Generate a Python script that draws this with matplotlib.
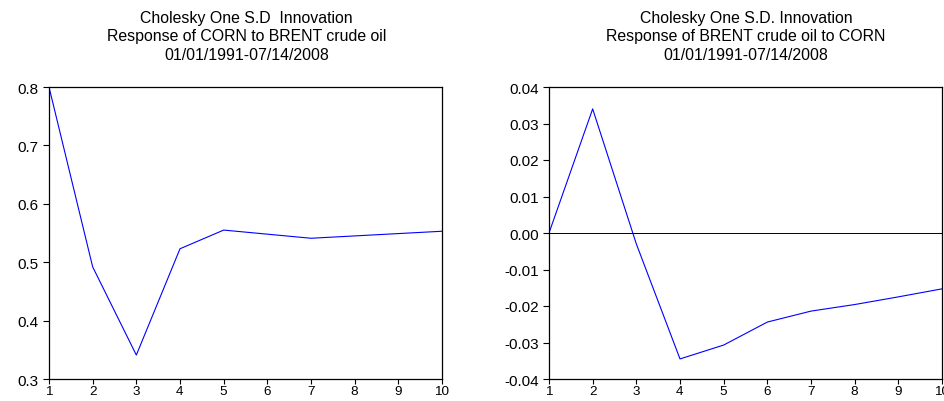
import matplotlib
matplotlib.use("Agg")
import matplotlib.pyplot as plt

periods = [1, 2, 3, 4, 5, 6, 7, 8, 9, 10]
corn_resp = [0.800, 0.492, 0.341, 0.523, 0.555, 0.548, 0.541, 0.545, 0.549, 0.553]
brent_resp = [0.0, 0.034, -0.003, -0.0345, -0.0307, -0.0244, -0.0214, -0.0196, -0.0175, -0.0153]

left_yticks = [0.3, 0.4, 0.5, 0.6, 0.7, 0.8]
right_yticks = [-0.04, -0.03, -0.02, -0.01, 0.00, 0.01, 0.02, 0.03, 0.04]

title_left = "Cholesky One S.D  Innovation\nResponse of CORN to BRENT crude oil\n01/01/1991-07/14/2008"
title_right = "Cholesky One S.D. Innovation\nResponse of BRENT crude oil to CORN\n01/01/1991-07/14/2008"

plt.rcParams['font.family'] = ['Liberation Sans', 'DejaVu Sans']

fig = plt.figure(figsize=(9.45, 4.02), dpi=100)
W, H = 945, 402
def ax_rect(x0, x1, y0, y1):
    return [x0 / W, 1 - y1 / H, (x1 - x0) / W, (y1 - y0) / H]

ax1 = fig.add_axes(ax_rect(49, 442, 88, 380))
ax2 = fig.add_axes(ax_rect(549, 942, 88, 380))

ax1.plot(periods, corn_resp, color='blue', lw=0.8)
ax1.set_xlim(1, 10)
ax1.set_ylim(0.3, 0.8)
ax1.set_yticks(left_yticks)
ax1.set_yticklabels([f"{v:.1f}" for v in left_yticks])

ax2.plot(periods, brent_resp, color='blue', lw=0.8)
ax2.axhline(0, color='black', lw=0.7)
ax2.set_xlim(1, 10)
ax2.set_ylim(-0.04, 0.04)
ax2.set_yticks(right_yticks)
ax2.set_yticklabels([f"{v:.2f}" for v in right_yticks])

for ax in (ax1, ax2):
    ax.set_xticks(periods)
    ax.set_xticklabels([str(p) for p in periods])
    ax.tick_params(axis='y', direction='out', length=4.5, width=0.8,
                   labelsize=11, pad=3, colors='black')
    ax.tick_params(axis='x', direction='out', length=3.6, width=0.8,
                   labelsize=9.7, pad=0.5, colors='black')
    for s in ax.spines.values():
        s.set_linewidth(0.9)

fig.text(246.5 / W, 1 - 37 / H, title_left, ha='center', va='center',
         fontsize=11.4, linespacing=1.25)
fig.text(746 / W, 1 - 37 / H, title_right, ha='center', va='center',
         fontsize=11.4, linespacing=1.25)

fig.savefig("out.png", dpi=100)
